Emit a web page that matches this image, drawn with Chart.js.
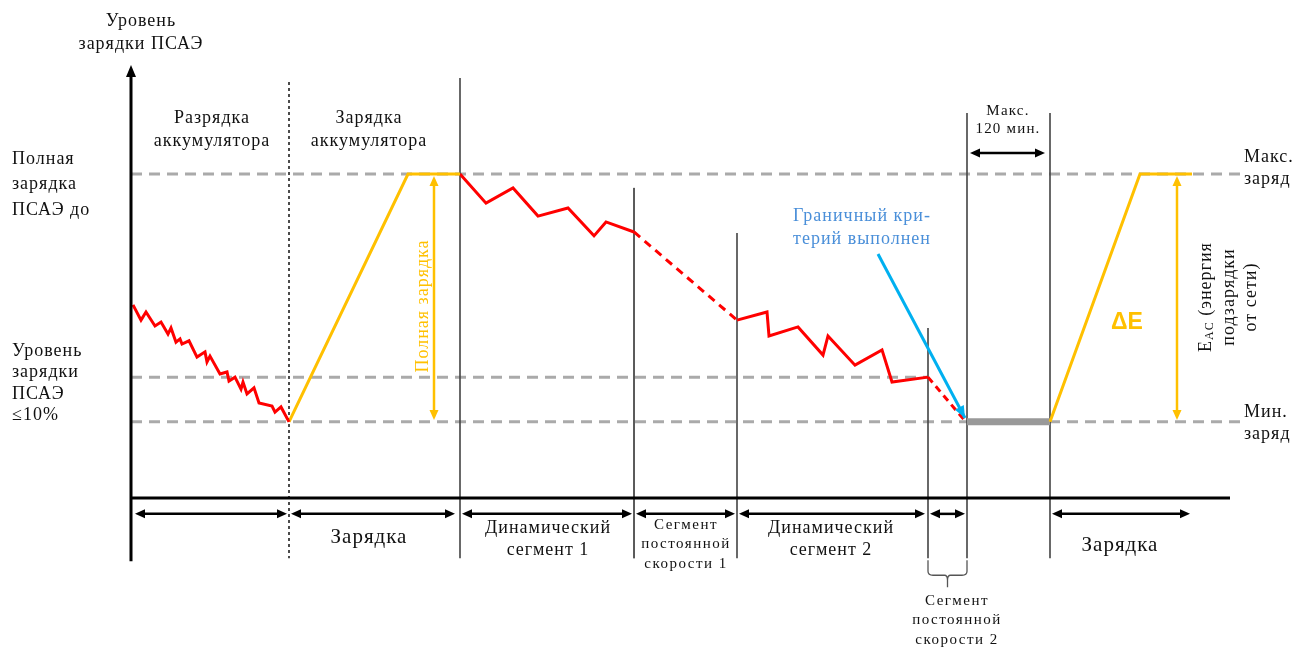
<!DOCTYPE html>
<html>
<head>
<meta charset="utf-8">
<script src="https://cdn.jsdelivr.net/npm/chart.js@4/dist/chart.umd.min.js"></script>
<style>
  html, body { margin: 0; padding: 0; background: #fff; }
  #wrap { width: 1296px; height: 648px; position: relative; }
</style>
</head>
<body>
<div id="wrap"><canvas id="c"></canvas></div>
<script>
// ---- данные схемы (t — условное время, L — уровень заряда, Макс. = 100) ----
const LVL_MAX = 100;
const LVL_10 = 37.3;
const LVL_MIN = 23.5;

// разрядка аккумулятора
const dischargeT = [2, 10, 15, 24, 30, 37, 40, 45, 49, 51, 58, 66, 74, 76, 79, 89, 96, 98, 104, 110, 112, 116, 123, 128, 141, 144, 150, 158];
const dischargeL = [59.6, 54.9, 57.4, 53.1, 54.3, 50.6, 52.5, 48.1, 49.1, 47.5, 48.5, 43.5, 45.1, 42.0, 43.8, 38.3, 38.9, 36.1, 37.3, 33.6, 35.8, 32.1, 34.0, 29.3, 28.4, 26.5, 28.1, 23.5];
// зарядка аккумулятора
const charge1T = [158, 277, 329];
const charge1L = [LVL_MIN, LVL_MAX, LVL_MAX];
// динамический сегмент 1
const dyn1T = [329, 355, 382, 407, 437, 463, 475, 503];
const dyn1L = [100, 91.0, 95.7, 87.0, 89.5, 80.9, 85.2, 82.1];
// сегмент постоянной скорости 1
const const1T = [503, 606];
const const1L = [82.1, 54.9];
// динамический сегмент 2
const dyn2T = [606, 636, 638, 667, 692, 697, 724, 751, 761, 797];
const dyn2L = [54.9, 57.4, 50.0, 52.8, 44.1, 50.0, 41.0, 45.7, 35.8, 37.3];
// сегмент постоянной скорости 2
const const2T = [797, 834];
const const2L = [37.3, 23.8];
// ожидание (макс. 120 мин.)
const waitT = [836, 919];
const waitL = [LVL_MIN, LVL_MIN];
// зарядка от сети
const charge2T = [919, 1009, 1061];
const charge2L = [LVL_MIN, LVL_MAX, LVL_MAX];
// стрелка «Граничный критерий выполнен»
const critT = [747, 834];
const critL = [75.3, 24.7];

// горизонтальные пунктирные уровни
const refLevels = [LVL_MAX, LVL_10, LVL_MIN];
const refEnds = [1111, 797, 1111];

// вертикальные границы сегментов
const vlineT = [158, 329, 503, 606, 797, 836, 919];
const vlineTop = [128.4, 129.6, 95.7, 81.8, 52.5, 118.8, 118.8];
const vlineBottom = -18.6;

// стрелки длительностей под осью
const spanStart = [4, 160, 331, 505, 608, 799, 921];
const spanEnd = [156, 324, 501, 604, 794, 834, 1059];
const SPAN_L = -4.9;
const waitSpan = [839, 914];
const WAIT_L = 106.5;
// стрелки «Полная зарядка» и ΔE
const fullArrowT = [303, 1046];

const AXIS_TOP = 133.6, AXIS_BOTTOM = -19.5, AXIS_END = 1099;

const RED = '#ff0000', ORANGE = '#ffc000', BLUE = '#00b0f0', GREY = '#aaaaaa';
const SERIF = '"Liberation Serif", "DejaVu Serif", serif';

const pts = (ts, ls) => ts.map((t, i) => ({ x: t, y: ls[i] }));
const line = (data, style) => Object.assign({ data, showLine: true, pointRadius: 0, fill: false, tension: 0, borderWidth: 3 }, style);

const datasets = [
  line(pts(dischargeT, dischargeL), { borderColor: RED, order: 1 }),
  line(pts(charge1T, charge1L), { borderColor: ORANGE, order: 1 }),
  line(pts(dyn1T, dyn1L), { borderColor: RED, order: 1 }),
  line(pts(const1T, const1L), { borderColor: RED, borderDash: [8, 6], order: 1 }),
  line(pts(dyn2T, dyn2L), { borderColor: RED, order: 1 }),
  line(pts(const2T, const2L), { borderColor: RED, borderDash: [7, 5], order: 1 }),
  line(pts(waitT, waitL), { borderColor: '#999999', borderWidth: 7, borderCapStyle: 'butt', order: 2 }),
  line(pts(charge2T, charge2L), { borderColor: ORANGE, order: 1 }),
  line(pts(critT, critL), { borderColor: BLUE, order: 0 })
];
refLevels.forEach((lv, i) => datasets.push(
  line(pts([0, refEnds[i]], [lv, lv]), { borderColor: GREY, borderDash: [11, 7], order: 5 })
));
vlineT.forEach((t, i) => datasets.push(
  line(pts([t, t], [vlineTop[i], vlineBottom]), {
    borderColor: i === 0 ? '#111' : '#444',
    borderWidth: i === 0 ? 1.5 : (i === 2 ? 1 : 1.6),
    borderDash: i === 0 ? [3, 3] : [],
    order: 4
  })
));
// оси
datasets.push(line(pts([0, 0], [AXIS_BOTTOM, AXIS_TOP - 3]), { borderColor: '#000', borderWidth: 3, order: 0 }));
datasets.push(line(pts([0, AXIS_END], [0, 0]), { borderColor: '#000', borderWidth: 3, order: 0 }));

function head(ctx, x1, y1, x2, y2, len, half, color) {
  const a = Math.atan2(y2 - y1, x2 - x1);
  ctx.save();
  ctx.fillStyle = color;
  ctx.beginPath();
  ctx.moveTo(x2, y2);
  ctx.lineTo(x2 - len * Math.cos(a) + half * Math.sin(a), y2 - len * Math.sin(a) - half * Math.cos(a));
  ctx.lineTo(x2 - len * Math.cos(a) - half * Math.sin(a), y2 - len * Math.sin(a) + half * Math.cos(a));
  ctx.closePath();
  ctx.fill();
  ctx.restore();
}

function dblArrow(ctx, x1, y1, x2, y2, color, w, len, half) {
  const a = Math.atan2(y2 - y1, x2 - x1);
  ctx.save();
  ctx.strokeStyle = color;
  ctx.lineWidth = w;
  ctx.beginPath();
  ctx.moveTo(x1 + (len - 2) * Math.cos(a), y1 + (len - 2) * Math.sin(a));
  ctx.lineTo(x2 - (len - 2) * Math.cos(a), y2 - (len - 2) * Math.sin(a));
  ctx.stroke();
  ctx.restore();
  head(ctx, x1, y1, x2, y2, len, half, color);
  head(ctx, x2, y2, x1, y1, len, half, color);
}

function txt(ctx, lines, x, y, size, lh, color, align, spacing) {
  ctx.save();
  ctx.font = size + 'px ' + SERIF;
  ctx.fillStyle = color || '#111';
  ctx.textAlign = align || 'center';
  ctx.textBaseline = 'middle';
  ctx.letterSpacing = (spacing == null ? 1 : spacing) + 'px';
  lines.forEach((s, i) => ctx.fillText(s, x, y + i * lh));
  ctx.restore();
}

function vtxt(ctx, s, x, y, size, color, spacing) {
  ctx.save();
  ctx.translate(x, y);
  ctx.rotate(-Math.PI / 2);
  txt(ctx, [s], 0, 0, size, 0, color, 'center', spacing);
  ctx.restore();
}

const schemePlugin = {
  id: 'scheme',
  afterDatasetsDraw(chart) {
    const { ctx, scales: { x, y } } = chart;
    const px = v => x.getPixelForValue(v), py = v => y.getPixelForValue(v);

    // стрелка оси уровня
    head(ctx, px(0), py(AXIS_TOP - 10), px(0), py(AXIS_TOP), 12, 5, '#000');
    // стрелка критерия
    head(ctx, px(critT[0]), py(critL[0]), px(critT[1]), py(critL[1]), 12, 5, BLUE);

    // длительности
    spanStart.forEach((s, i) => dblArrow(ctx, px(s), py(SPAN_L), px(spanEnd[i]), py(SPAN_L), '#000', 2.5, 10, 4.5));
    dblArrow(ctx, px(waitSpan[0]), py(WAIT_L), px(waitSpan[1]), py(WAIT_L), '#000', 2.5, 10, 4.5);
    fullArrowT.forEach(t => dblArrow(ctx, px(t), py(LVL_MAX - 0.6), px(t), py(LVL_MIN + 0.6), ORANGE, 2.5, 10, 4.5));

    // фигурная скобка под сегментом постоянной скорости 2
    const bx1 = px(vlineT[4]), bx2 = px(vlineT[5]), bm = (bx1 + bx2) / 2, by = py(vlineBottom);
    ctx.save();
    ctx.strokeStyle = '#555';
    ctx.lineWidth = 1.3;
    ctx.beginPath();
    ctx.moveTo(bx1, by + 2);
    ctx.lineTo(bx1, by + 13);
    ctx.quadraticCurveTo(bx1, by + 17, bx1 + 5, by + 17);
    ctx.lineTo(bm - 3, by + 17);
    ctx.quadraticCurveTo(bm, by + 17, bm, by + 22);
    ctx.lineTo(bm, by + 29);
    ctx.moveTo(bm, by + 22);
    ctx.quadraticCurveTo(bm, by + 17, bm + 3, by + 17);
    ctx.lineTo(bx2 - 5, by + 17);
    ctx.quadraticCurveTo(bx2, by + 17, bx2, by + 13);
    ctx.lineTo(bx2, by + 2);
    ctx.stroke();
    ctx.restore();

    // подписи
    txt(ctx, ['Уровень', 'зарядки ПСАЭ'], 141, 21, 18, 23);
    txt(ctx, ['Разрядка', 'аккумулятора'], 212, 118, 18, 23);
    txt(ctx, ['Зарядка', 'аккумулятора'], 369, 118, 18, 23);
    txt(ctx, ['Полная', 'зарядка', 'ПСАЭ до'], 12, 159, 18, 25.5, '#111', 'left');
    txt(ctx, ['Уровень', 'зарядки', 'ПСАЭ', '≤10%'], 12, 351, 18, 21.5, '#111', 'left');
    txt(ctx, ['Макс.', 'заряд'], 1244, 157, 18, 22, '#111', 'left');
    txt(ctx, ['Мин.', 'заряд'], 1244, 412, 18, 22, '#111', 'left');
    txt(ctx, ['Макс.', '120 мин.'], 1008, 111, 15, 18, '#111', 'center', 1.2);
    txt(ctx, ['Граничный кри-', 'терий выполнен'], 862, 216, 18, 23, '#4a8fd9');
    txt(ctx, ['Зарядка'], 369, 537, 21, 0);
    txt(ctx, ['Зарядка'], 1120, 545, 21, 0);
    txt(ctx, ['Динамический', 'сегмент 1'], 548, 528, 18, 22);
    txt(ctx, ['Динамический', 'сегмент 2'], 831, 528, 18, 22);
    txt(ctx, ['Сегмент', 'постоянной', 'скорости 1'], 686, 525, 15, 19.5, '#111', 'center', 1.5);
    txt(ctx, ['Сегмент', 'постоянной', 'скорости 2'], 957, 601, 15, 19.5, '#111', 'center', 1.5);

    vtxt(ctx, 'Полная зарядка', 423, 306, 18, ORANGE, 1);

    ctx.save();
    ctx.font = 'bold 23px "Liberation Sans", Arial, sans-serif';
    ctx.fillStyle = ORANGE;
    ctx.textAlign = 'center';
    ctx.textBaseline = 'middle';
    ctx.fillText('ΔE', 1127, 323);
    ctx.restore();

    // E_AC (энергия подзарядки от сети)
    ctx.save();
    ctx.translate(1206, 297);
    ctx.rotate(-Math.PI / 2);
    ctx.fillStyle = '#111';
    ctx.textBaseline = 'middle';
    ctx.letterSpacing = '1px';
    const big = '18px ' + SERIF, small = '12px ' + SERIF;
    ctx.font = big; const wE = ctx.measureText('E').width;
    ctx.font = small; const wS = ctx.measureText('AC').width;
    ctx.font = big; const wR = ctx.measureText(' (энергия').width;
    let sx = -(wE + wS + wR) / 2;
    ctx.textAlign = 'left';
    ctx.fillText('E', sx, 0); sx += wE;
    ctx.font = small; ctx.fillText('AC', sx, 4); sx += wS;
    ctx.font = big; ctx.fillText(' (энергия', sx, 0);
    ctx.restore();
    vtxt(ctx, 'подзарядки', 1229, 297, 18, '#111', 1);
    vtxt(ctx, 'от сети)', 1251, 297, 18, '#111', 1);
  }
};

new Chart(document.getElementById('c'), {
  type: 'scatter',
  data: { datasets },
  options: {
    responsive: true,
    maintainAspectRatio: false,
    animation: false,
    events: [],
    layout: { padding: 0 },
    plugins: { legend: { display: false }, tooltip: { enabled: false }, title: { display: false } },
    scales: {
      x: { type: 'linear', min: -131, max: 1165, display: false },
      y: { type: 'linear', min: -46.3, max: 153.7, display: false }
    }
  },
  plugins: [schemePlugin]
});
</script>
</body>
</html>
